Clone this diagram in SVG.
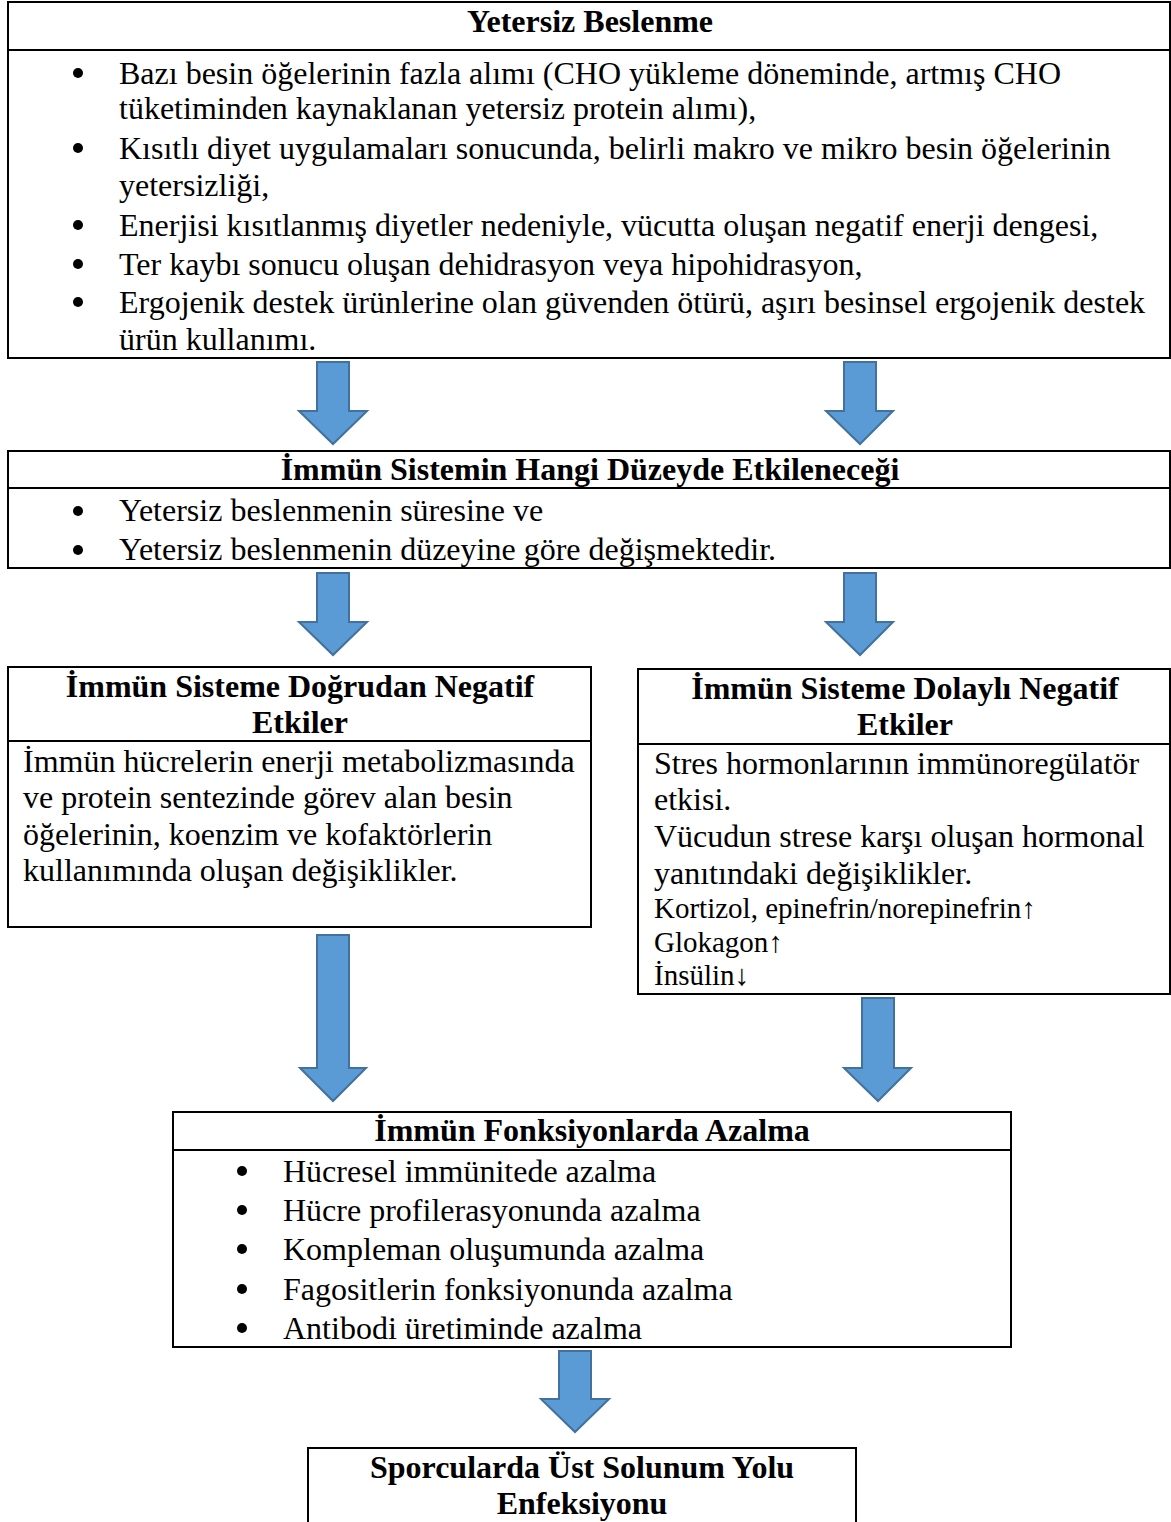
<svg xmlns="http://www.w3.org/2000/svg" width="1171" height="1522" viewBox="0 0 1171 1522">
<style>
.box{fill:#fff;stroke:#000;stroke-width:2}
.sep{stroke:#000;stroke-width:2}
.t{font-family:"Liberation Serif","Times New Roman",serif;font-size:32px;fill:#000}
.s{font-family:"Liberation Serif","Times New Roman",serif;font-size:29px;fill:#000}
.b{font-family:"Liberation Serif","Times New Roman",serif;font-size:32px;font-weight:bold;fill:#000;text-anchor:middle}
.dot{fill:#000}
.arr{fill:#5b9bd5;stroke:#41719c;stroke-width:2;stroke-linejoin:miter}
</style>
<rect width="1171" height="1522" fill="#fff"/>
<g id="connectors">
<path class="arr" d="M317,362H349V411H367L333,444L299,411H317Z"/>
<path class="arr" d="M844,362H876V411H893L860,444L826,411H844Z"/>
<path class="arr" d="M317,573H349V622H367L333,655L299,622H317Z"/>
<path class="arr" d="M844,573H876V622H893L860,655L826,622H844Z"/>
<path class="arr" d="M317,935H349V1068H366L333,1101L300,1068H317Z"/>
<path class="arr" d="M862,998H894V1068H911L878,1101L844,1068H862Z"/>
<path class="arr" d="M559,1351H591V1399H609L575,1432L541,1399H559Z"/>
</g>
<g id="n1">
<rect class="box" x="8" y="2" width="1162" height="356"/>
<line class="sep" x1="8" y1="50" x2="1170" y2="50"/>
<text class="b" x="590" y="32">Yetersiz Beslenme</text>
<circle class="dot" cx="78" cy="73" r="5"/>
<text class="t" x="119" y="84">Bazı besin öğelerinin fazla alımı (CHO yükleme döneminde, artmış CHO</text>
<text class="t" x="119" y="119">tüketiminden kaynaklanan yetersiz protein alımı),</text>
<circle class="dot" cx="78" cy="148" r="5"/>
<text class="t" x="119" y="159">Kısıtlı diyet uygulamaları sonucunda, belirli makro ve mikro besin öğelerinin</text>
<text class="t" x="119" y="196">yetersizliği,</text>
<circle class="dot" cx="78" cy="225" r="5"/>
<text class="t" x="119" y="236">Enerjisi kısıtlanmış diyetler nedeniyle, vücutta oluşan negatif enerji dengesi,</text>
<circle class="dot" cx="78" cy="264" r="5"/>
<text class="t" x="119" y="275">Ter kaybı sonucu oluşan dehidrasyon veya hipohidrasyon,</text>
<circle class="dot" cx="78" cy="302" r="5"/>
<text class="t" x="119" y="313">Ergojenik destek ürünlerine olan güvenden ötürü, aşırı besinsel ergojenik destek</text>
<text class="t" x="119" y="350">ürün kullanımı.</text>
</g>
<g id="n2">
<rect class="box" x="8" y="451" width="1162" height="117"/>
<line class="sep" x1="8" y1="488" x2="1170" y2="488"/>
<text class="b" x="590" y="480">İmmün Sistemin Hangi Düzeyde Etkileneceği</text>
<circle class="dot" cx="78" cy="511" r="5"/>
<text class="t" x="119" y="521">Yetersiz beslenmenin süresine ve</text>
<circle class="dot" cx="78" cy="550" r="5"/>
<text class="t" x="119" y="560">Yetersiz beslenmenin düzeyine göre değişmektedir.</text>
</g>
<g id="n3">
<rect class="box" x="8" y="667" width="583" height="260"/>
<line class="sep" x1="8" y1="741" x2="591" y2="741"/>
<text class="b" x="300" y="697">İmmün Sisteme Doğrudan Negatif</text>
<text class="b" x="300" y="733">Etkiler</text>
<text class="t" x="23" y="772">İmmün hücrelerin enerji metabolizmasında</text>
<text class="t" x="23" y="808">ve protein sentezinde görev alan besin</text>
<text class="t" x="23" y="845">öğelerinin, koenzim ve kofaktörlerin</text>
<text class="t" x="23" y="881">kullanımında oluşan değişiklikler.</text>
</g>
<g id="n4">
<rect class="box" x="638" y="669" width="532" height="325"/>
<line class="sep" x1="638" y1="744" x2="1170" y2="744"/>
<text class="b" x="905" y="699">İmmün Sisteme Dolaylı Negatif</text>
<text class="b" x="905" y="735">Etkiler</text>
<text class="t" x="654" y="774">Stres hormonlarının immünoregülatör</text>
<text class="t" x="654" y="810">etkisi.</text>
<text class="t" x="654" y="847">Vücudun strese karşı oluşan hormonal</text>
<text class="t" x="654" y="884">yanıtındaki değişiklikler.</text>
<text class="s" x="654" y="918">Kortizol, epinefrin/norepinefrin↑</text>
<text class="s" x="654" y="952">Glokagon↑</text>
<text class="s" x="654" y="985">İnsülin↓</text>
</g>
<g id="n5">
<rect class="box" x="173" y="1112" width="838" height="235"/>
<line class="sep" x1="173" y1="1150" x2="1011" y2="1150"/>
<text class="b" x="592" y="1141">İmmün Fonksiyonlarda Azalma</text>
<circle class="dot" cx="242" cy="1171" r="5"/>
<text class="t" x="283" y="1182">Hücresel immünitede azalma</text>
<circle class="dot" cx="242" cy="1210" r="5"/>
<text class="t" x="283" y="1221">Hücre profilerasyonunda azalma</text>
<circle class="dot" cx="242" cy="1249" r="5"/>
<text class="t" x="283" y="1260">Kompleman oluşumunda azalma</text>
<circle class="dot" cx="242" cy="1289" r="5"/>
<text class="t" x="283" y="1300">Fagositlerin fonksiyonunda azalma</text>
<circle class="dot" cx="242" cy="1328" r="5"/>
<text class="t" x="283" y="1339">Antibodi üretiminde azalma</text>
</g>
<g id="n6">
<rect class="box" x="308" y="1448" width="548" height="80"/>
<text class="b" x="582" y="1478">Sporcularda Üst Solunum Yolu</text>
<text class="b" x="582" y="1514">Enfeksiyonu</text>
</g>
</svg>
